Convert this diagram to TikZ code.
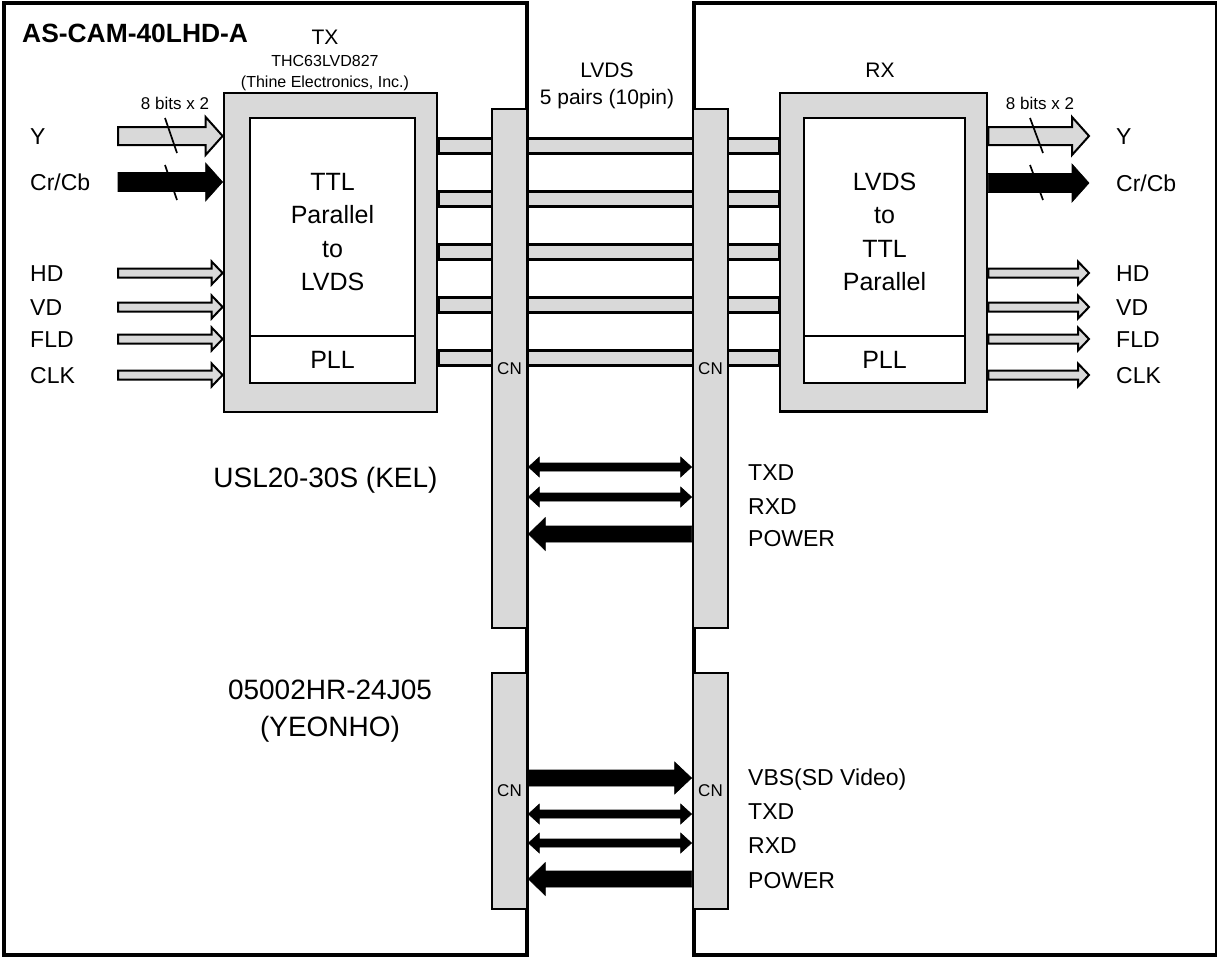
\documentclass[tikz,border=0pt]{standalone}
\usepackage{fontspec}
\setmainfont{Liberation Sans}
\usepackage{tikz}
\usetikzlibrary{positioning, calc}
\definecolor{boxgrey}{RGB}{217,217,217}
\pgfdeclarelayer{background}
\pgfsetlayers{background,main}

\tikzstyle{board} = [draw=black, line width=4pt]
\tikzstyle{chipbox} = [rectangle, fill=boxgrey, draw=black, line width=2.8pt, inner sep=0pt]
\tikzstyle{corebox} = [rectangle, fill=white, draw=black, line width=2.6pt, inner sep=0pt,
font=\fontsize{25}{33.5}\selectfont]
\tikzstyle{chiptext} = [inner sep=0pt, align=center, font=\fontsize{25}{33.5}\selectfont]
\tikzstyle{cnbox} = [rectangle, fill=boxgrey, draw=black, line width=2.8pt,
minimum width=35pt, inner sep=0pt, font=\fontsize{17}{20}\selectfont]
\tikzstyle{lvdsbar} = [fill=boxgrey, draw=black, line width=2.2pt]
\tikzstyle{greyarrow} = [fill=boxgrey, draw=black, line width=2pt]
\tikzstyle{blackarrow} = [fill=black, draw=black, line width=0.6pt]
\tikzstyle{slash} = [draw=black, line width=1.7pt]
\tikzstyle{signame} = [inner sep=0pt, anchor=west, text height=16.5pt, text depth=0pt,
font=\fontsize{23}{27}\selectfont]
\tikzstyle{chipname} = [inner sep=0pt, font=\fontsize{21}{27}\selectfont]
\tikzstyle{smallnote} = [inner sep=0pt, align=center, font=\fontsize{16}{21}\selectfont]
\tikzstyle{connname} = [inner sep=0pt, align=center, font=\fontsize{28}{37}\selectfont]

% horizontal block arrow: style, from, to, half shaft, half head, head length
\newcommand{\fatarrow}[6]{%
  \path[#1] let \p1=(#2), \p2=(#3), \p3=($(#3)!#6!(#2)$) in
    (\x1,\y1-#4) -- (\x3,\y1-#4) -- (\x3,\y1-#5) -- (\x2,\y1)
    -- (\x3,\y1+#5) -- (\x3,\y1+#4) -- (\x1,\y1+#4) -- cycle;}
% same with a head at both ends
\newcommand{\twoarrow}[6]{%
  \path[#1] let \p1=(#2), \p2=(#3), \p3=($(#3)!#6!(#2)$), \p4=($(#2)!#6!(#3)$) in
    (\x1,\y1) -- (\x4,\y1-#5) -- (\x4,\y1-#4) -- (\x3,\y1-#4) -- (\x3,\y1-#5)
    -- (\x2,\y1) -- (\x3,\y1+#5) -- (\x3,\y1+#4) -- (\x4,\y1+#4) -- (\x4,\y1+#5) -- cycle;}

\begin{document}
\begin{tikzpicture}[x=1pt, y=-1pt]
    \useasboundingbox (0,0) rectangle (1217,958);

    % boards
    \draw[board] (3.5,3) rectangle (526.5,954.5);
    \draw[board] (693.5,3) rectangle (1216.5,954.5);

    % chips
    \node (tx)     [chipbox, minimum width=213pt, minimum height=319pt] at (330.5,252.5) {};
    \node (txcore) [corebox, minimum width=165pt, minimum height=218pt] at (332.5,227) {};
    \node (txpll)  [corebox, minimum width=165pt, minimum height=47pt]  at (332.5,359.5) {PLL};
    \node (txtext) [chiptext] at (332.5,232) {TTL\\Parallel\\to\\LVDS};

    \node (rx)     [chipbox, minimum width=207pt, minimum height=318.5pt] at (883.5,252.25) {};
    \node (rxcore) [corebox, minimum width=161pt, minimum height=218pt] at (884.5,227) {};
    \node (rxpll)  [corebox, minimum width=161pt, minimum height=47pt]  at (884.5,359.5) {PLL};
    \node (rxtext) [chiptext] at (884.5,232) {LVDS\\to\\TTL\\Parallel};

    % connectors
    \node (cnal) [cnbox, minimum height=519pt] at (509.5,368.5) {CN};
    \node (cnar) [cnbox, minimum height=519pt] at (710.5,368.5) {CN};
    \node (cnbl) [cnbox, minimum height=236pt] at (509.5,791) {CN};
    \node (cnbr) [cnbox, minimum height=236pt] at (710.5,791) {CN};

    % lvds pairs
    \begin{pgfonlayer}{background}
    \foreach \y in {146,199,252,305,358}
        \draw[lvdsbar] ($(tx.east |- 0,\y)+(0,-7.5)$) rectangle ($(rx.west |- 0,\y)+(0,7.5)$);
    \end{pgfonlayer}

    % texts
    \node (camname)  [inner sep=0pt, anchor=west, font=\bfseries\fontsize{26.4}{30}\selectfont]
        at (22,33) {AS-CAM-40LHD-A};
    \node (txname)   [chipname] at (325,37) {TX};
    \node (txpart)   [smallnote, below=10.8pt of txname] {THC63LVD827\\(Thine Electronics, Inc.)};
    \node (rxname)   [chipname] at (880,70) {RX};
    \node (lvdsname) [chipname, align=center, anchor=north] at (607,62.5) {LVDS\\5 pairs (10pin)};
    \node (bitsin)   [smallnote, font=\fontsize{17}{21}\selectfont] at (175,103) {8 bits x 2};
    \node (bitsout)  [smallnote, font=\fontsize{17}{21}\selectfont] at (1040,103) {8 bits x 2};
    \node (uslname)  [connname, text height=20pt, text depth=0pt] at (325.5,477.5) {USL20-30S (KEL)};
    \node (yeoname)  [connname, anchor=north] at (330,680) {05002HR-24J05\\(YEONHO)};

    % input side
    \node (yin)   [signame] at (30,136) {Y};
    \node (cin)   [signame] at (30,182) {Cr/Cb};
    \node (hdin)  [signame] at (30,273) {HD};
    \node (vdin)  [signame] at (30,307) {VD};
    \node (fldin) [signame] at (30,339) {FLD};
    \node (clkin) [signame] at (30,375) {CLK};
    \coordinate (ytail)   at (118,136);
    \coordinate (ctail)   at (118,182);
    \coordinate (hdtail)  at (118,273);
    \coordinate (vdtail)  at (118,307);
    \coordinate (fldtail) at (118,339);
    \coordinate (clktail) at (118,375);
    \fatarrow{greyarrow}{ytail}{tx.west |- ytail}{9pt}{19pt}{17pt}
    \fatarrow{blackarrow}{ctail}{tx.west |- ctail}{9.5pt}{19pt}{17pt}
    \fatarrow{greyarrow}{hdtail}{tx.west |- hdtail}{4.5pt}{11.5pt}{11pt}
    \fatarrow{greyarrow}{vdtail}{tx.west |- vdtail}{4.5pt}{11.5pt}{11pt}
    \fatarrow{greyarrow}{fldtail}{tx.west |- fldtail}{4.5pt}{11.5pt}{11pt}
    \fatarrow{greyarrow}{clktail}{tx.west |- clktail}{4.5pt}{11.5pt}{11pt}
    \draw[slash] (165,118) -- (177,153);
    \draw[slash] (165,165) -- (177,200);

    % output side
    \node (yout)   [signame] at (1116,136) {Y};
    \node (cout)   [signame] at (1116,183) {Cr/Cb};
    \node (hdout)  [signame] at (1116,273) {HD};
    \node (vdout)  [signame] at (1116,307) {VD};
    \node (fldout) [signame] at (1116,339) {FLD};
    \node (clkout) [signame] at (1116,375) {CLK};
    \coordinate (ytip)   at (1089,136);
    \coordinate (ctip)   at (1089,183);
    \coordinate (hdtip)  at (1089,273);
    \coordinate (vdtip)  at (1089,307);
    \coordinate (fldtip) at (1089,339);
    \coordinate (clktip) at (1089,375);
    \fatarrow{greyarrow}{rx.east |- ytip}{ytip}{9pt}{19pt}{17pt}
    \fatarrow{blackarrow}{rx.east |- ctip}{ctip}{9.5pt}{19pt}{17pt}
    \fatarrow{greyarrow}{rx.east |- hdtip}{hdtip}{4.5pt}{11.5pt}{11pt}
    \fatarrow{greyarrow}{rx.east |- vdtip}{vdtip}{4.5pt}{11.5pt}{11pt}
    \fatarrow{greyarrow}{rx.east |- fldtip}{fldtip}{4.5pt}{11.5pt}{11pt}
    \fatarrow{greyarrow}{rx.east |- clktip}{clktip}{4.5pt}{11.5pt}{11pt}
    \draw[slash] (1030,118) -- (1043,153);
    \draw[slash] (1030,165) -- (1043,200);

    % USL20 lines
    \node (txda)  [signame] at (748,472) {TXD};
    \node (rxda)  [signame] at (748,506) {RXD};
    \node (pwra)  [signame] at (748,538) {POWER};
    \twoarrow{blackarrow}{cnal.east |- 0,467}{cnar.west |- 0,467}{4pt}{10pt}{11pt}
    \twoarrow{blackarrow}{cnal.east |- 0,497}{cnar.west |- 0,497}{4pt}{10pt}{11pt}
    \fatarrow{blackarrow}{cnar.west |- 0,534}{cnal.east |- 0,534}{8pt}{16.5pt}{17pt}

    % YEONHO lines
    \node (vbsb)  [signame] at (748,777) {VBS(SD Video)};
    \node (txdb)  [signame] at (748,811) {TXD};
    \node (rxdb)  [signame] at (748,845) {RXD};
    \node (pwrb)  [signame] at (748,880) {POWER};
    \fatarrow{blackarrow}{cnbl.east |- 0,778}{cnbr.west |- 0,778}{8pt}{16pt}{17pt}
    \twoarrow{blackarrow}{cnbl.east |- 0,814}{cnbr.west |- 0,814}{4pt}{10pt}{11pt}
    \twoarrow{blackarrow}{cnbl.east |- 0,843}{cnbr.west |- 0,843}{4pt}{10pt}{11pt}
    \fatarrow{blackarrow}{cnbr.west |- 0,879}{cnbl.east |- 0,879}{8pt}{16.5pt}{17pt}
\end{tikzpicture}
\end{document}
